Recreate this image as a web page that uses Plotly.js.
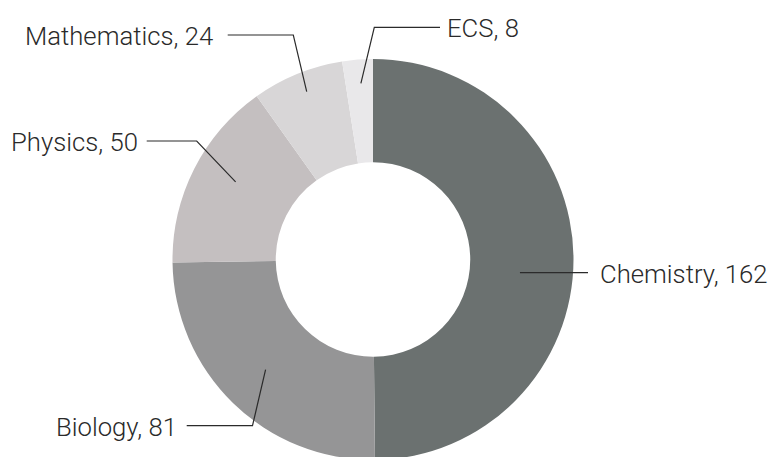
<!DOCTYPE html>
<html>
<head>
<meta charset="utf-8">
<script src="https://cdn.plot.ly/plotly-3.0.1.min.js"></script>
<style>
  html, body { margin: 0; padding: 0; overflow: hidden; background: #fff; }
  #chart { width: 773px; height: 462px; }
</style>
</head>
<body>
<div id="chart"></div>
<script>
// ---- data ----
const categories = ["Chemistry", "Biology", "Physics", "Mathematics", "ECS"];
const counts = [162, 81, 50, 24, 8];
const sliceColors = ["#6b7170", "#959596", "#c4bfc0", "#d8d6d7", "#e9e8ea"];

// ---- layout helpers (pixel geometry of the figure) ----
const W = 773, H = 462;
const CX = 373, CY = 259.5, R = 200.5;
const HOLE = 0.485;

// label / leader-line placement (layout only, not data)
const leaders = [
  { r: 0.736, shift: 5.5, bend: null,           ly: 272.7, ex: 588,   side: "right", gap: 10 },
  { r: 0.767, shift: 0,   bend: [252.5, 425.7], ly: 425.7, ex: 186.7, side: "left",  gap: 8 },
  { r: 0.787, shift: 2.6, bend: [196.7, 141],   ly: 141,   ex: 146.7, side: "left",  gap: 7 },
  { r: 0.900, shift: 0.6, bend: [293.3, 35],    ly: 35,    ex: 227.7, side: "left",  gap: 13 },
  { r: 0.881, shift: 0.5, bend: [374.3, 27.3],  ly: 27.3,  ex: 440,   side: "right", gap: 5 }
];

const px = x => x / W;
const py = y => 1 - y / H;

const total = counts.reduce((a, b) => a + b, 0);
let cum = 0;
const shapes = [];
const annotations = [];
counts.forEach((v, i) => {
  const mid = (cum + v / 2) / total * 360;
  cum += v;
  const L = leaders[i];
  const th = (mid + L.shift) * Math.PI / 180;
  const sx = CX + L.r * R * Math.sin(th);
  const sy = CY - L.r * R * Math.cos(th);
  let path = `M ${px(sx)} ${py(L.bend ? sy : L.ly)}`;
  if (L.bend) path += ` L ${px(L.bend[0])} ${py(L.bend[1])}`;
  path += ` L ${px(L.ex)} ${py(L.ly)}`;
  shapes.push({
    type: "path", xref: "paper", yref: "paper", path: path,
    line: { color: "#2b2b2b", width: 1.2 }
  });
  annotations.push({
    xref: "paper", yref: "paper",
    x: px(L.side === "right" ? L.ex + L.gap : L.ex - L.gap),
    y: py(L.ly + 1),
    xanchor: L.side === "right" ? "left" : "right",
    yanchor: "middle",
    text: categories[i] + ", " + v,
    showarrow: false,
    font: { family: "Roboto, 'Noto Sans', sans-serif", size: 25.7, weight: 300, color: "#2a2a2a" }
  });
});

const trace = {
  type: "pie",
  labels: categories,
  values: counts,
  sort: false,
  direction: "clockwise",
  rotation: 0,
  hole: HOLE,
  textinfo: "none",
  hoverinfo: "none",
  marker: { colors: sliceColors, line: { width: 0 } },
  domain: { x: [(CX - R) / W, (CX + R) / W], y: [(H - CY - R) / H, (H - CY + R) / H] },
  showlegend: false
};

Plotly.newPlot("chart", [trace], {
  width: W, height: H,
  margin: { l: 0, r: 0, t: 0, b: 0 },
  paper_bgcolor: "#ffffff",
  plot_bgcolor: "#ffffff",
  showlegend: false,
  shapes: shapes,
  annotations: annotations
}, { staticPlot: true, displayModeBar: false });
</script>
</body>
</html>
